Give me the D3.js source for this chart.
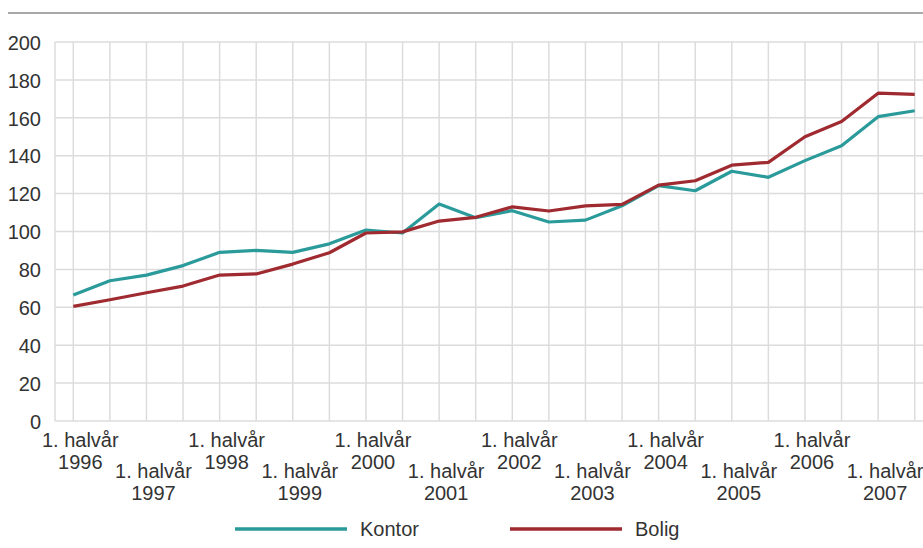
<!DOCTYPE html>
<html>
<head>
<meta charset="utf-8">
<script src="https://cdn.jsdelivr.net/npm/d3@7"></script>
<style>
  html, body { margin: 0; padding: 0; background: #fff; }
  svg { display: block; font-family: "Liberation Sans", Arial, Helvetica, sans-serif; }
</style>
</head>
<body>
<svg id="chart" width="923" height="548"></svg>
<script>
// Half-year periods, 1996 H1 .. 2007 H2
const periods = [
  "1996-1", "1996-2", "1997-1", "1997-2", "1998-1", "1998-2",
  "1999-1", "1999-2", "2000-1", "2000-2", "2001-1", "2001-2",
  "2002-1", "2002-2", "2003-1", "2003-2", "2004-1", "2004-2",
  "2005-1", "2005-2", "2006-1", "2006-2", "2007-1", "2007-2"
];

// Price index, office premises
const kontor = [
  66.5, 74, 77, 82, 89, 90, 89, 93.5, 100.8, 99.2, 114.5, 107.3,
  111, 105, 106, 113.6, 124.2, 121.5, 131.8, 128.6, 137.4, 145.3, 160.6, 163.7
];

// Price index, housing
const bolig = [
  60.5, 64, 67.7, 71.2, 77, 77.6, 82.8, 88.8, 99.2, 99.8, 105.5, 107.5,
  113, 110.8, 113.5, 114.3, 124.5, 126.8, 135, 136.5, 150, 158, 173, 172.4
];

const yTicks = [0, 20, 40, 60, 80, 100, 120, 140, 160, 180, 200];
const xLabelYears = ["1996", "1997", "1998", "1999", "2000", "2001", "2002", "2003", "2004", "2005", "2006", "2007"];
const xLabelPrefix = "1. halvår";

const seriesNames = ["Kontor", "Bolig"];
const seriesColors = ["#2a9b9a", "#9f2a30"];

const svg = d3.select("#chart");

const plot = { left: 55, right: 933, top: 42, bottom: 421 };

const x = d3.scaleBand().domain(periods).range([plot.left, plot.right]);
const xc = p => x(p) + x.bandwidth() / 2;
const y = d3.scaleLinear().domain([0, 200]).range([plot.bottom, plot.top]);

// Rule across the top
svg.append("line")
  .attr("x1", 8).attr("x2", 923).attr("y1", 13).attr("y2", 13)
  .attr("stroke", "#a8a8a8").attr("stroke-width", 2);

// Horizontal gridlines
svg.append("g").selectAll("line").data(yTicks).join("line")
  .attr("x1", plot.left).attr("x2", 923)
  .attr("y1", d => y(d)).attr("y2", d => y(d))
  .attr("stroke", "#dcdcdc").attr("stroke-width", 1.5);

// Vertical gridlines at each period, plus the left edge
svg.append("g").selectAll("line").data(periods).join("line")
  .attr("x1", d => xc(d)).attr("x2", d => xc(d))
  .attr("y1", plot.top).attr("y2", plot.bottom)
  .attr("stroke", "#dcdcdc").attr("stroke-width", 1.5);
svg.append("line")
  .attr("x1", plot.left).attr("x2", plot.left)
  .attr("y1", plot.top).attr("y2", plot.bottom)
  .attr("stroke", "#dcdcdc").attr("stroke-width", 1.5);

// Y axis labels
const yAxis = d3.axisLeft(y).tickValues(yTicks).tickSize(0).tickPadding(0);
const gy = svg.append("g").attr("transform", `translate(${plot.left - 14},0)`).call(yAxis);
gy.select(".domain").remove();
gy.selectAll("text")
  .attr("font-size", 20).attr("fill", "#333")
  .attr("font-family", "'Liberation Sans', Arial, sans-serif")
  .attr("dy", "0.36em");

// X axis labels: first half-year of each year, staggered on two rows
const xTickPeriods = xLabelYears.map(yr => yr + "-1");
const gx = svg.append("g");
xTickPeriods.forEach((p, i) => {
  const lower = i % 2 === 1;
  const cx = xc(p) + 7;
  const t = gx.append("text")
    .attr("x", cx)
    .attr("y", lower ? 478 : 447)
    .attr("text-anchor", "middle")
    .attr("font-size", 20).attr("fill", "#333");
  t.append("tspan").attr("x", cx).text(xLabelPrefix);
  t.append("tspan").attr("x", cx).attr("dy", 21.5).text(xLabelYears[i]);
});

// Series lines
const line = d3.line().x((d, i) => xc(periods[i])).y(d => y(d));
[kontor, bolig].forEach((s, k) => {
  svg.append("path")
    .datum(s)
    .attr("d", line)
    .attr("fill", "none")
    .attr("stroke", seriesColors[k])
    .attr("stroke-width", 3.2)
    .attr("stroke-linejoin", "round");
});

// Legend
const legendX = [235, 510];
seriesNames.forEach((name, k) => {
  const g = svg.append("g").attr("transform", `translate(${legendX[k]},529)`);
  g.append("line").attr("x1", 0).attr("x2", 112).attr("y1", 0).attr("y2", 0)
    .attr("stroke", seriesColors[k]).attr("stroke-width", 3.5);
  g.append("text").attr("x", 125).attr("y", 0).attr("dy", "0.36em")
    .attr("font-size", 20).attr("fill", "#333").text(name);
});
</script>
</body>
</html>
